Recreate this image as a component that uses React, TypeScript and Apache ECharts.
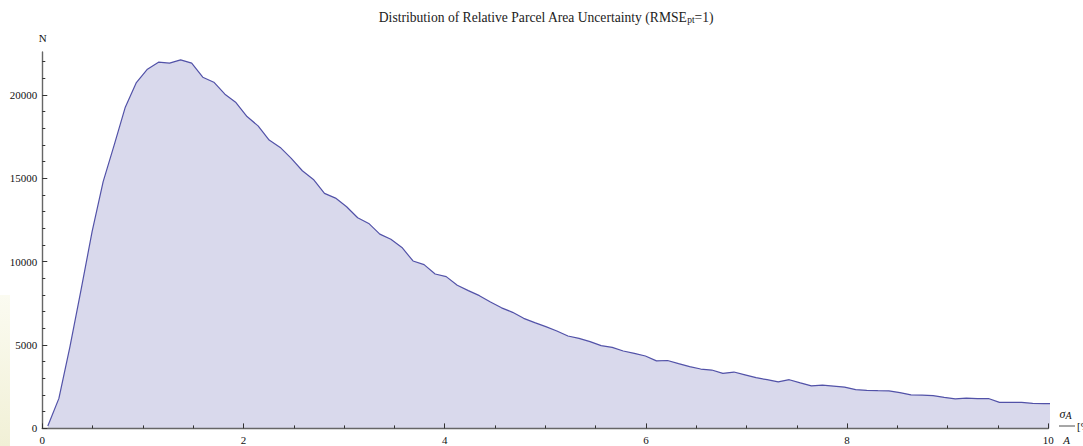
import React, { useEffect, useRef } from 'react';
import * as echarts from 'echarts';

// Histogram of relative parcel area uncertainty (bin width 0.11 %, bin centres)
const binStart = 0.055;
const binWidth = 0.11;
const counts = [
  140, 1800, 4900, 8300, 11800, 14800, 17000, 19260, 20740, 21540,
  21960, 21900, 22100, 21900, 21060, 20760, 20040, 19540, 18700, 18140,
  17290, 16850, 16190, 15450, 14930, 14090, 13810, 13290, 12630, 12290,
  11650, 11340, 10850, 10040, 9820, 9260, 9100, 8580, 8260, 7960,
  7580, 7230, 6960, 6600, 6340, 6100, 5840, 5540, 5400, 5200,
  4960, 4860, 4640, 4500, 4340, 4050, 4070, 3880, 3700, 3560,
  3500, 3300, 3380, 3210, 3040, 2920, 2790, 2920, 2730, 2550,
  2600, 2540, 2480, 2330, 2280, 2260, 2250, 2150, 2010, 1990,
  1960, 1860, 1770, 1810, 1790, 1790, 1560, 1560, 1560, 1500,
  1480, 1480,
];

const xMajorTicks = [0, 2, 4, 6, 8, 10];
const xMinorTicks = [0.5, 1, 1.5, 2.5, 3, 3.5, 4.5, 5, 5.5, 6.5, 7, 7.5, 8.5, 9, 9.5];
const yMajorTicks = [0, 5000, 10000, 15000, 20000];
const yMinorTicks = [
  1000, 2000, 3000, 4000, 6000, 7000, 8000, 9000, 11000, 12000, 13000, 14000,
  16000, 17000, 18000, 19000, 21000, 22000,
];
const xMin = 0;
const xMax = 10;
const yMin = 0;
const yMax = 22570;

const titleMain = 'Distribution of Relative Parcel Area Uncertainty (RMSE';
const titleSub = 'pt';
const titleEnd = '=1)';
const yName = 'N';

const SERIF = '"Liberation Serif", "DejaVu Serif", "Times New Roman", serif';
const AXIS_COLOR = '#666666';
const TICK_COLOR = '#333333';

export default function App() {
  const ref = useRef<HTMLDivElement | null>(null);

  useEffect(() => {
    if (!ref.current) return;
    const chart = echarts.init(ref.current, undefined, { renderer: 'svg' });

    const data = counts.map((c, k) => [binStart + binWidth * k, c]);

    const labelStyle = {
      fontFamily: SERIF,
      fontSize: 11,
      color: '#111',
    };

    const option: any = {
      animation: false,
      backgroundColor: '#ffffff',
      grid: { left: 42.3, right: 34.7, top: 52, bottom: 17.6, containLabel: false },
      xAxis: [
        {
          type: 'value',
          min: xMin,
          max: xMax,
          interval: 2,
          position: 'bottom',
          z: 5,
          axisLine: { show: true, onZero: false, lineStyle: { color: AXIS_COLOR, width: 1.4 } },
          axisTick: {
            show: true,
            inside: true,
            length: 5,
            customValues: xMajorTicks,
            lineStyle: { color: TICK_COLOR, width: 1 },
          },
          axisLabel: {
            ...labelStyle,
            margin: 6,
            customValues: xMajorTicks,
            formatter: (v: number) => String(v),
          },
          splitLine: { show: false },
        },
        {
          type: 'value',
          min: xMin,
          max: xMax,
          position: 'bottom',
          offset: 0,
          z: 5,
          axisLine: { show: false, onZero: false },
          axisTick: {
            show: true,
            inside: true,
            length: 3,
            customValues: xMinorTicks,
            lineStyle: { color: TICK_COLOR, width: 1 },
          },
          axisLabel: { show: false },
          splitLine: { show: false },
        },
      ],
      yAxis: [
        {
          type: 'value',
          min: yMin,
          max: yMax,
          position: 'left',
          z: 5,
          axisLine: { show: true, onZero: false, lineStyle: { color: AXIS_COLOR, width: 1.4 } },
          axisTick: {
            show: true,
            inside: true,
            length: 5,
            customValues: yMajorTicks,
            lineStyle: { color: TICK_COLOR, width: 1 },
          },
          axisLabel: {
            ...labelStyle,
            margin: 5,
            customValues: yMajorTicks,
            formatter: (v: number) => String(v),
          },
          splitLine: { show: false },
        },
        {
          type: 'value',
          min: yMin,
          max: yMax,
          position: 'left',
          offset: 0,
          z: 5,
          axisLine: { show: false, onZero: false },
          axisTick: {
            show: true,
            inside: true,
            length: 3,
            customValues: yMinorTicks,
            lineStyle: { color: TICK_COLOR, width: 1 },
          },
          axisLabel: { show: false },
          splitLine: { show: false },
        },
      ],
      series: [
        {
          type: 'line',
          xAxisIndex: 0,
          yAxisIndex: 0,
          data,
          symbol: 'none',
          showSymbol: false,
          smooth: false,
          clip: true,
          lineStyle: { color: '#5252a8', width: 1.2 },
          areaStyle: { color: '#d9d9ec', opacity: 1 },
          z: 2,
        },
      ],
      graphic: [
        {
          type: 'rect',
          z: -10,
          shape: { x: 0, y: 295, width: 10, height: 151 },
          style: {
            fill: new echarts.graphic.LinearGradient(0, 0, 0, 1, [
              { offset: 0, color: '#fbfbf1' },
              { offset: 1, color: '#f1f0d6' },
            ]),
          },
        },
        {
          type: 'text',
          x: 546,
          y: 17,
          style: {
            text: `{a|${titleMain}}{s|${titleSub}}{a|${titleEnd}}`,
            rich: {
              a: { fontFamily: SERIF, fontSize: 13.6, lineHeight: 16, fill: '#222', verticalAlign: 'middle' },
              s: { fontFamily: SERIF, fontSize: 9.5, lineHeight: 8, fill: '#222', verticalAlign: 'bottom' },
            },
            align: 'center',
            verticalAlign: 'middle',
            textAlign: 'center',
            textVerticalAlign: 'middle',
          },
        },
        {
          type: 'text',
          x: 42.7,
          y: 38,
          style: {
            text: yName,
            fontFamily: SERIF,
            fontSize: 11,
            fill: '#111',
            align: 'center',
            verticalAlign: 'middle',
            textAlign: 'center',
            textVerticalAlign: 'middle',
          },
        },
        {
          type: 'text',
          x: 1065.5,
          y: 414,
          style: {
            text: '{s|σ}{a|A}',
            rich: {
              s: { fontFamily: SERIF, fontSize: 12, fontStyle: 'italic', fill: '#111', lineHeight: 13 },
              a: { fontFamily: SERIF, fontSize: 10, fontStyle: 'italic', fill: '#111', lineHeight: 9, verticalAlign: 'bottom' },
            },
            align: 'center',
            verticalAlign: 'middle',
            textAlign: 'center',
            textVerticalAlign: 'middle',
          },
        },
        {
          type: 'line',
          shape: { x1: 1059, y1: 426, x2: 1075, y2: 426 },
          style: { stroke: '#222', lineWidth: 0.8 },
        },
        {
          type: 'text',
          x: 1066.5,
          y: 440,
          style: {
            text: 'A',
            fontFamily: SERIF,
            fontSize: 11,
            fontStyle: 'italic',
            fill: '#111',
            align: 'center',
            verticalAlign: 'middle',
            textAlign: 'center',
            textVerticalAlign: 'middle',
          },
        },
        {
          type: 'text',
          x: 1077,
          y: 426,
          style: {
            text: '[%]',
            fontFamily: SERIF,
            fontSize: 11,
            fill: '#111',
            align: 'left',
            verticalAlign: 'middle',
            textAlign: 'left',
            textVerticalAlign: 'middle',
          },
        },
      ],
    };

    chart.setOption(option);
    return () => {
      chart.dispose();
    };
  }, []);

  return (
    <div
      ref={ref}
      style={{ position: 'fixed', left: 0, top: 0, width: 1083, height: 446, background: '#fff' }}
    />
  );
}
